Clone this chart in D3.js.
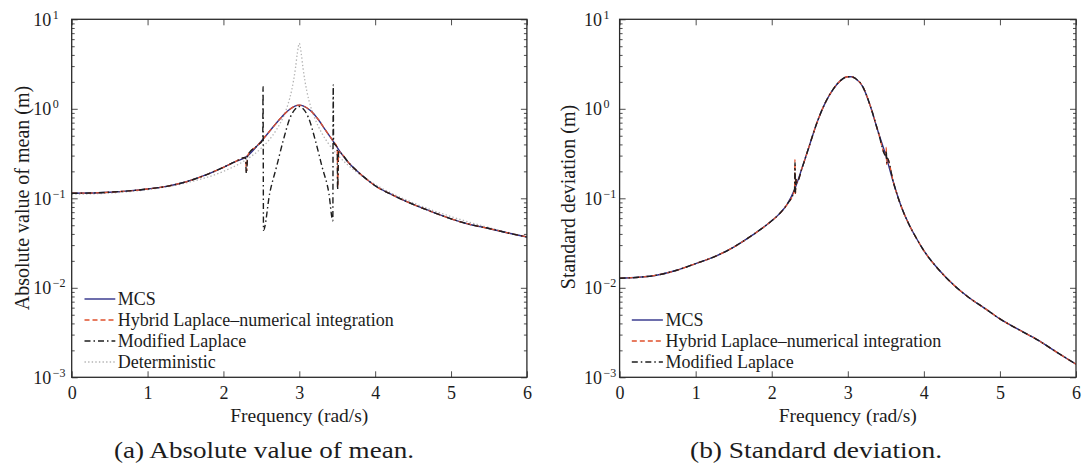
<!DOCTYPE html>
<html>
<head>
<meta charset="utf-8">
<script src="https://cdn.jsdelivr.net/npm/d3@7"></script>
<style>
  body { margin: 0; background: #fff; }
  svg text { font-family: "Liberation Serif", "Times New Roman", serif; fill: #1c1c1c; }
</style>
</head>
<body>
<svg id="fig" width="1083" height="475"></svg>
<script>
// ---------- data: frequency (rad/s), response (m) ----------
const xTicks = [0, 1, 2, 3, 4, 5, 6];
const yDecades = [-3, -2, -1, 0, 1];

// (a) absolute value of the mean
const meanMCS = [[0,0.114],[0.25,0.1145],[0.5,0.117],[0.75,0.121],[1,0.127],[1.25,0.136],[1.5,0.152],[1.75,0.18],[2,0.222],[2.15,0.255],[2.3,0.29],[2.45,0.39],[2.6,0.55],[2.75,0.78],[2.85,0.95],[2.95,1.08],[3,1.1],[3.05,1.08],[3.15,0.95],[3.25,0.76],[3.35,0.57],[3.45,0.43],[3.55,0.32],[3.65,0.25],[3.75,0.206],[3.9,0.16],[4,0.138],[4.2,0.112],[4.4,0.093],[4.6,0.079],[4.8,0.068],[5,0.059],[5.25,0.051],[5.5,0.046],[5.75,0.041],[6,0.037]];
const meanHybrid = [[0,0.114],[0.25,0.1145],[0.5,0.117],[0.75,0.121],[1,0.127],[1.25,0.136],[1.5,0.152],[1.75,0.18],[2,0.222],[2.15,0.255],[2.29,0.286],[2.303,0.2],[2.312,0.232],[2.318,0.3],[2.45,0.39],[2.6,0.55],[2.75,0.78],[2.85,0.95],[2.95,1.08],[3,1.1],[3.05,1.08],[3.15,0.95],[3.25,0.76],[3.35,0.57],[3.45,0.43],[3.5,0.37],[3.505,0.13],[3.512,0.2],[3.518,0.335],[3.55,0.32],[3.65,0.25],[3.75,0.206],[3.9,0.16],[4,0.138],[4.2,0.112],[4.4,0.093],[4.6,0.079],[4.8,0.068],[5,0.059],[5.25,0.051],[5.5,0.046],[5.75,0.041],[6,0.037]];
const meanModified = [[0,0.114],[0.25,0.1145],[0.5,0.117],[0.75,0.121],[1,0.127],[1.25,0.136],[1.5,0.152],[1.75,0.18],[2,0.222],[2.15,0.255],[2.29,0.286],[2.302,0.19],[2.31,0.22],[2.318,0.3],[2.45,0.39],[2.518,0.45],[2.522,1.77],[2.528,0.044],[2.61,0.114],[2.7,0.225],[2.79,0.448],[2.88,0.8],[2.95,1.0],[3,1.06],[3.05,1.0],[3.12,0.8],[3.21,0.448],[3.3,0.225],[3.39,0.114],[3.442,0.056],[3.447,1.85],[3.452,0.42],[3.5,0.37],[3.505,0.125],[3.512,0.2],[3.518,0.335],[3.55,0.32],[3.65,0.25],[3.75,0.206],[3.9,0.16],[4,0.138],[4.2,0.112],[4.4,0.093],[4.6,0.079],[4.8,0.068],[5,0.059],[5.25,0.051],[5.5,0.046],[5.75,0.041],[6,0.037]];
const meanDeterministic = [[0,0.111],[0.5,0.1143],[1,0.125],[1.5,0.148],[2,0.2],[2.25,0.254],[2.5,0.364],[2.6,0.446],[2.7,0.585],[2.8,0.853],[2.85,1.117],[2.9,1.62],[2.95,2.87],[2.975,4.23],[3,5.4],[3.025,4.17],[3.05,2.81],[3.1,1.56],[3.15,1.06],[3.2,0.8],[3.3,0.529],[3.4,0.391],[3.5,0.308],[3.75,0.198],[4,0.143],[4.5,0.089],[5,0.0625],[5.5,0.047],[6,0.037]];

// (b) standard deviation
const stdMCS = [[0,0.0128],[0.25,0.0131],[0.5,0.0139],[0.75,0.0157],[1,0.0186],[1.25,0.0223],[1.5,0.0285],[1.75,0.039],[2,0.056],[2.1,0.067],[2.2,0.085],[2.3,0.125],[2.4,0.22],[2.5,0.4],[2.6,0.72],[2.7,1.15],[2.8,1.62],[2.9,2.05],[3,2.28],[3.05,2.28],[3.1,2.18],[3.2,1.75],[3.3,1.05],[3.4,0.55],[3.5,0.3],[3.6,0.15],[3.7,0.082],[3.8,0.052],[3.9,0.036],[4,0.026],[4.2,0.0158],[4.4,0.0106],[4.6,0.0077],[4.8,0.0059],[5,0.0045],[5.25,0.0034],[5.5,0.0026],[5.75,0.0019],[6,0.0014]];
const stdHybrid = [[0,0.0128],[0.25,0.0131],[0.5,0.0139],[0.75,0.0157],[1,0.0186],[1.25,0.0223],[1.5,0.0285],[1.75,0.039],[2,0.056],[2.1,0.067],[2.2,0.085],[2.3,0.125],[2.305,0.27],[2.311,0.11],[2.318,0.17],[2.33,0.15],[2.4,0.22],[2.5,0.4],[2.6,0.72],[2.7,1.15],[2.8,1.62],[2.9,2.05],[3,2.28],[3.05,2.28],[3.1,2.18],[3.2,1.75],[3.3,1.05],[3.4,0.55],[3.5,0.3],[3.505,0.37],[3.511,0.24],[3.518,0.28],[3.6,0.15],[3.7,0.082],[3.8,0.052],[3.9,0.036],[4,0.026],[4.2,0.0158],[4.4,0.0106],[4.6,0.0077],[4.8,0.0059],[5,0.0045],[5.25,0.0034],[5.5,0.0026],[5.75,0.0019],[6,0.0014]];
const stdModified = [[0,0.0128],[0.25,0.0131],[0.5,0.0139],[0.75,0.0157],[1,0.0186],[1.25,0.0223],[1.5,0.0285],[1.75,0.039],[2,0.056],[2.1,0.067],[2.2,0.085],[2.3,0.125],[2.306,0.25],[2.312,0.115],[2.32,0.165],[2.33,0.15],[2.4,0.22],[2.5,0.4],[2.6,0.72],[2.7,1.15],[2.8,1.62],[2.9,2.05],[3,2.28],[3.05,2.28],[3.1,2.18],[3.2,1.75],[3.3,1.05],[3.4,0.55],[3.5,0.3],[3.506,0.34],[3.511,0.25],[3.518,0.28],[3.6,0.15],[3.7,0.082],[3.8,0.052],[3.9,0.036],[4,0.026],[4.2,0.0158],[4.4,0.0106],[4.6,0.0077],[4.8,0.0059],[5,0.0045],[5.25,0.0034],[5.5,0.0026],[5.75,0.0019],[6,0.0014]];

const seriesNamesA = ["MCS", "Hybrid Laplace\u2013numerical integration", "Modified Laplace", "Deterministic"];
const seriesNamesB = ["MCS", "Hybrid Laplace\u2013numerical integration", "Modified Laplace"];

// ---------- line styles ----------
const styles = {
  mcs:    { stroke: "#2e3088", dash: null,        width: 1.4 },
  hybrid: { stroke: "#e0502c", dash: "5,3",       width: 1.3 },
  mod:    { stroke: "#1e1e1e", dash: "6,3,1.5,3", width: 1.4 },
  det:    { stroke: "#b4b4b4", dash: "1.4,2.2",   width: 1.3 }
};

const svg = d3.select("#fig");

function drawPanel(p) {
  const x = d3.scaleLinear().domain([0, 6]).range([p.left, p.right]);
  const y = d3.scaleLog().domain([1e-3, 10]).range([p.bottom, p.top]);
  const g = svg.append("g");

  const clipId = "clip-" + p.id;
  svg.append("clipPath").attr("id", clipId)
    .append("rect").attr("x", p.left).attr("y", p.top)
    .attr("width", p.right - p.left).attr("height", p.bottom - p.top);

  // minor log ticks (inside, left and right)
  const minor = [];
  for (let e = -3; e < 1; e++) for (let m = 2; m <= 9; m++) minor.push(m * Math.pow(10, e));
  const axColor = "#3a3a3a";
  g.append("g").attr("transform", `translate(${p.left},0)`)
    .call(d3.axisLeft(y).tickValues(minor).tickSize(-3).tickFormat(""));
  g.append("g").attr("transform", `translate(${p.right},0)`)
    .call(d3.axisRight(y).tickValues(minor).tickSize(-3).tickFormat(""));
  // major ticks
  const majors = yDecades.map(e => Math.pow(10, e));
  g.append("g").attr("transform", `translate(${p.left},0)`)
    .call(d3.axisLeft(y).tickValues(majors).tickSize(-6).tickFormat(""));
  g.append("g").attr("transform", `translate(${p.right},0)`)
    .call(d3.axisRight(y).tickValues(majors).tickSize(-6).tickFormat(""));
  g.append("g").attr("transform", `translate(0,${p.top})`)
    .call(d3.axisTop(x).tickValues(xTicks).tickSize(-6).tickFormat(""));
  const xb = g.append("g").attr("class", "xb").attr("transform", `translate(0,${p.bottom})`)
    .call(d3.axisBottom(x).tickValues(xTicks).tickSize(-6).tickPadding(9).tickFormat(d3.format("d")));
  g.selectAll(".domain").remove();
  g.selectAll(".tick line").attr("stroke", axColor).attr("stroke-width", 0.9);
  xb.selectAll("text").style("font-size", "18px").attr("fill", "#1c1c1c")
    .style("font-family", '"Liberation Serif", serif');

  // y tick labels: 10 with superscript exponent
  yDecades.forEach(e => {
    const yy = y(Math.pow(10, e));
    g.append("text").attr("x", p.left - p.labOff).attr("y", yy + 6.5)
      .attr("text-anchor", "end").style("font-size", "18px").text("10");
    g.append("text").attr("x", p.left - p.labOff + 1.5).attr("y", yy - 0.5)
      .attr("text-anchor", "start").style("font-size", "12px")
      .text(e < 0 ? "\u2212" + (-e) : String(e));
  });

  // curves
  const line = d3.line().x(d => x(d[0])).y(d => y(d[1])).curve(d3.curveMonotoneX);
  const cg = g.append("g").attr("clip-path", `url(#${clipId})`);
  p.series.forEach(s => {
    const st = styles[s.style];
    cg.append("path").datum(s.data)
      .attr("fill", "none").attr("stroke", st.stroke).attr("stroke-width", st.width)
      .attr("stroke-dasharray", st.dash).attr("stroke-linejoin", "round")
      .attr("d", line);
  });

  // axes box
  g.append("rect").attr("x", p.left).attr("y", p.top)
    .attr("width", p.right - p.left).attr("height", p.bottom - p.top)
    .attr("fill", "none").attr("stroke", "#2a2a2a").attr("stroke-width", 1.3);

  // axis labels
  g.append("text").attr("x", (p.left + p.right) / 2).attr("y", 422)
    .attr("text-anchor", "middle").style("font-size", "19.5px").text("Frequency (rad/s)");
  g.append("text").attr("transform", `translate(${p.ylabX},${p.ylabY}) rotate(-90)`)
    .attr("text-anchor", "middle").attr("dy", "0.35em").style("font-size", "20px").text(p.ylabel);

  // legend
  p.legend.forEach((item, i) => {
    const ly = p.legY + i * 21;
    const st = styles[item.style];
    g.append("line").attr("x1", p.legX1).attr("x2", p.legX2).attr("y1", ly).attr("y2", ly)
      .attr("stroke", st.stroke).attr("stroke-width", st.width).attr("stroke-dasharray", st.dash);
    g.append("text").attr("x", p.legX2 + 2.5).attr("y", ly).attr("dy", "0.34em")
      .style("font-size", "18px").text(item.name);
  });

  // caption
  g.append("text").attr("x", p.capX).attr("y", 458).attr("text-anchor", "middle")
    .attr("textLength", p.capLen).attr("lengthAdjust", "spacingAndGlyphs")
    .style("font-size", "23px").text(p.caption);
}

drawPanel({
  id: "a", left: 71.7, right: 526.9, top: 19.3, bottom: 377.3, labOff: 20.5,
  ylabel: "Absolute value of mean (m)", ylabX: 22, ylabY: 198,
  series: [
    { data: meanDeterministic, style: "det" },
    { data: meanMCS, style: "mcs" },
    { data: meanHybrid, style: "hybrid" },
    { data: meanModified, style: "mod" }
  ],
  legend: seriesNamesA.map((n, i) => ({ name: n, style: ["mcs", "hybrid", "mod", "det"][i] })),
  legX1: 84.5, legX2: 115.3, legY: 299,
  caption: "(a)  Absolute value of mean.", capX: 264, capLen: 300
});

drawPanel({
  id: "b", left: 619.6, right: 1076, top: 19.3, bottom: 377.3, labOff: 17.5,
  ylabel: "Standard deviation (m)", ylabX: 568, ylabY: 197,
  series: [
    { data: stdMCS, style: "mcs" },
    { data: stdHybrid, style: "hybrid" },
    { data: stdModified, style: "mod" }
  ],
  legend: seriesNamesB.map((n, i) => ({ name: n, style: ["mcs", "hybrid", "mod"][i] })),
  legX1: 631.8, legX2: 662.9, legY: 320,
  caption: "(b)  Standard deviation.", capX: 816, capLen: 252
});
</script>
</body>
</html>
